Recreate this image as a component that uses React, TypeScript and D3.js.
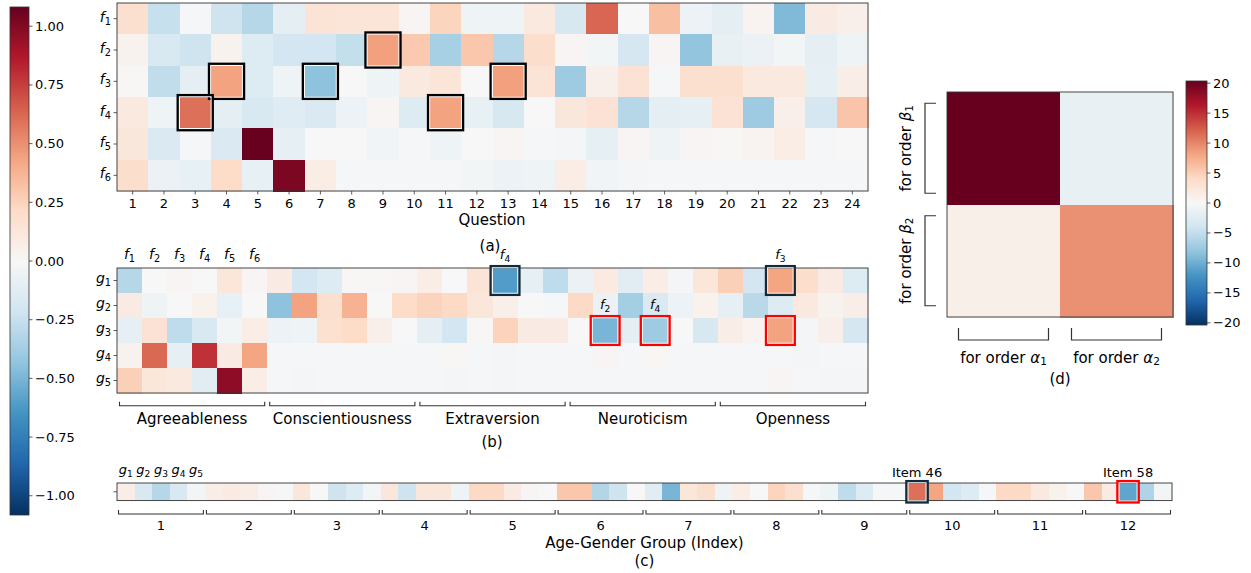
import React from "react";
import * as d3 from "d3";

// ---------------- data ----------------
const questionTicks = [1, 2, 3, 4, 5, 6, 7, 8, 9, 10, 11, 12, 13, 14, 15, 16, 17, 18, 19, 20, 21, 22, 23, 24];
const factorIdx = ["1", "2", "3", "4", "5", "6"];

const f1Row = [0.18, -0.25, -0.01, -0.22, -0.31, -0.11, 0.15, 0.14, 0.14, 0.02, 0.24, -0.05, -0.05, 0.11, -0.18, 0.63, 0.0, 0.33, -0.06, -0.11, 0.03, -0.48, 0.09, 0.06];
const f2Row = [0.04, -0.17, -0.22, 0.04, -0.15, -0.2, -0.2, -0.26, 0.45, 0.29, -0.36, 0.3, -0.31, 0.19, 0.02, -0.03, -0.19, 0.02, -0.43, -0.08, -0.07, -0.03, -0.11, -0.05];
const f3Row = [0.01, -0.27, -0.11, 0.44, -0.15, -0.05, -0.44, 0.0, -0.05, 0.11, 0.14, 0.0, 0.45, 0.15, -0.39, 0.06, 0.16, -0.01, 0.18, 0.18, 0.11, 0.11, -0.1, 0.07];
const f4Row = [0.11, -0.05, 0.6, -0.11, -0.17, -0.13, -0.16, -0.06, 0.02, -0.15, 0.44, -0.09, -0.18, 0.0, 0.12, 0.16, -0.31, -0.11, -0.1, 0.16, -0.39, 0.06, -0.19, 0.31];
const f5Row = [0.12, -0.16, -0.01, -0.16, 1.08, -0.1, 0.0, 0.0, -0.04, -0.01, -0.05, 0.0, 0.02, -0.01, -0.02, -0.1, 0.02, -0.05, 0.02, 0.01, 0.03, 0.08, -0.01, 0.0];
const f6Row = [0.19, -0.07, -0.09, 0.21, -0.09, 1.02, 0.08, -0.01, -0.01, -0.01, -0.01, -0.03, -0.06, -0.05, 0.08, -0.04, -0.02, -0.01, -0.01, -0.01, -0.01, -0.01, -0.01, -0.01];
const panelA = [f1Row, f2Row, f3Row, f4Row, f5Row, f6Row];
const boxesA = [
  { row: 1, col: 8 },
  { row: 2, col: 3 },
  { row: 2, col: 6 },
  { row: 2, col: 12 },
  { row: 3, col: 2 },
  { row: 3, col: 10 },
];

const groupIdx = ["1", "2", "3", "4", "5"];
const traits = ["Agreeableness", "Conscientiousness", "Extraversion", "Neuroticism", "Openness"];
const g1Row = [-0.31, 0.0, 0.02, 0.0, 0.13, 0.02, 0.09, -0.2, -0.15, 0.01, 0.01, 0.02, 0.08, 0.0, 0.15, -0.61, -0.1, -0.28, -0.07, 0.1, -0.12, 0.08, -0.02, 0.13, 0.26, -0.2, 0.43, 0.19, 0.09, -0.15];
const g2Row = [0.09, -0.05, 0.0, 0.05, -0.09, 0.0, -0.44, 0.44, 0.18, 0.38, 0.0, 0.21, 0.25, 0.22, 0.13, 0.06, 0.0, -0.01, 0.22, -0.07, -0.37, -0.16, -0.06, 0.05, -0.1, -0.3, -0.15, 0.11, 0.04, 0.07];
const g3Row = [-0.1, 0.16, -0.28, -0.17, -0.03, 0.08, -0.06, -0.05, 0.17, 0.21, 0.06, 0.0, -0.11, -0.2, 0.01, 0.25, 0.09, 0.09, 0.0, -0.5, -0.11, -0.39, 0.0, -0.18, 0.07, 0.03, 0.44, -0.02, 0.06, -0.19];
const g4Row = [0.04, 0.62, -0.1, 0.79, 0.09, 0.43, -0.01, -0.01, -0.01, -0.01, -0.01, -0.01, -0.01, 0.01, -0.01, -0.02, -0.01, -0.01, -0.01, 0.02, -0.01, 0.01, -0.01, -0.01, -0.01, -0.01, -0.01, -0.02, -0.01, -0.01];
const g5Row = [0.26, 0.13, 0.11, -0.12, 0.97, 0.08, -0.01, -0.02, -0.01, -0.01, -0.01, -0.01, -0.01, -0.02, -0.01, -0.02, -0.01, -0.01, -0.01, -0.01, -0.01, -0.01, -0.01, -0.01, -0.01, -0.01, 0.02, -0.01, -0.02, -0.02];
const panelB = [g1Row, g2Row, g3Row, g4Row, g5Row];
const boxesB = [
  { row: 0, col: 15, color: "dark", label: "4" },
  { row: 0, col: 26, color: "dark", label: "3" },
  { row: 2, col: 19, color: "red", label: "2" },
  { row: 2, col: 21, color: "red", label: "4" },
  { row: 2, col: 26, color: "red", label: "" },
];

const ageGroups = ["1", "2", "3", "4", "5", "6", "7", "8", "9", "10", "11", "12"];
const itemValues = [
  0.07, -0.17, -0.31, -0.17, -0.03,
  0.07, 0.09, 0.07, 0.02, -0.01,
  0.13, 0.0, -0.22, -0.15, -0.03,
  0.12, -0.22, 0.12, 0.12, -0.05,
  0.22, 0.22, 0.09, 0.02, 0.0,
  0.3, 0.3, -0.32, -0.22, 0.0,
  -0.12, -0.5, 0.13, 0.18, -0.05,
  0.08, 0.0, 0.24, 0.18, -0.01,
  -0.05, -0.28, -0.15, -0.01, -0.01,
  0.6, 0.43, -0.2, -0.15, -0.01,
  0.22, 0.22, 0.11, 0.05, 0.0,
  0.3, 0.09, -0.57, -0.33, -0.03,
];
const boxesC = [
  { idx: 45, color: "dark", label: "Item 46" },
  { idx: 57, color: "red", label: "Item 58" },
];

const dBeta1Row = [20.4, -1.6];
const dBeta2Row = [1.2, 9.3];
const panelD = [dBeta1Row, dBeta2Row];
const orderIdx = ["1", "2"];

const mainTicks = [1, 0.75, 0.5, 0.25, 0, -0.25, -0.5, -0.75, -1];
const dTicks = [20, 15, 10, 5, 0, -5, -10, -15, -20];

// ---------------- styling ----------------
const FONT = "'DejaVu Sans', sans-serif";
const AX = "#333";
const DARK = "#142a3a";
const RED = "#ff0000";
const stops = ["#053061", "#2166ac", "#4393c3", "#92c5de", "#d1e5f0", "#f7f7f7", "#fddbc7", "#f4a582", "#d6604d", "#b2182b", "#67001f"];
const VMAX = 1.082;
const VMAX_D = 20.36;

function makeCmap(vmax: number) {
  return d3
    .scaleLinear<string>()
    .domain(stops.map((_, i) => -vmax + (2 * vmax * i) / 10))
    .range(stops)
    .interpolate(d3.interpolateRgb)
    .clamp(true);
}
const cmap = makeCmap(VMAX);
const cmapD = makeCmap(VMAX_D);

const fmt2 = (v: number) => (v < 0 ? "\u2212" : "") + Math.abs(v).toFixed(2);
const fmt0 = (v: number) => (v < 0 ? "\u2212" : "") + Math.abs(v).toString();

function MathLabel(props: { x: number; y: number; base: string; sub: string; anchor?: string; size?: number; italic?: boolean }) {
  const size = props.size ?? 14;
  return (
    <text x={props.x} y={props.y} textAnchor={props.anchor ?? "middle"} fontFamily={FONT} fontSize={size} fill="#000">
      <tspan fontStyle={props.italic === false ? "normal" : "italic"}>{props.base}</tspan>
      <tspan fontSize={size * 0.7} dy={size * 0.22}>{props.sub}</tspan>
    </text>
  );
}

function Box(props: { x: number; y: number; w: number; h: number; color: string }) {
  const { x, y, w, h, color } = props;
  return (
    <g>
      <rect x={x - 0.4} y={y - 0.4} width={w + 0.8} height={h + 0.8} fill="none" stroke="#fff" strokeWidth={1.3} />
      <rect x={x - 1.9} y={y - 1.9} width={w + 3.8} height={h + 3.8} fill="none" stroke={color} strokeWidth={2.3} />
    </g>
  );
}

function HBracket(props: { x0: number; x1: number; y: number; up: number }) {
  const { x0, x1, y, up } = props;
  return <path d={`M${x0},${y - up}V${y}H${x1}V${y - up}`} fill="none" stroke={AX} strokeWidth={1.1} />;
}

export default function App() {
  // Panel A
  const ax = d3.scaleBand<number>().domain(questionTicks).range([117, 868]);
  const ay = d3.scaleBand<string>().domain(factorIdx).range([3, 191]);
  // Panel B
  const bCols = d3.range(30);
  const bx = d3.scaleBand<number>().domain(bCols).range([117, 868]);
  const by = d3.scaleBand<string>().domain(groupIdx).range([268, 393]);
  // Panel C
  const cCols = d3.range(itemValues.length);
  const cx = d3.scaleBand<number>().domain(cCols).range([117, 1172]);
  const cy0 = 483;
  const cy1 = cy0 + cx.bandwidth();
  // Panel D
  const dx = d3.scaleBand<string>().domain(orderIdx).range([947, 1173]);
  const dy = d3.scaleBand<string>().domain(orderIdx).range([92, 317]);
  // colorbars
  const cbY = d3.scaleLinear().domain([-VMAX, VMAX]).range([515, 7]);
  const cbDY = d3.scaleLinear().domain([-VMAX_D, VMAX_D]).range([325, 81]);

  const colorOf = (c: string) => (c === "red" ? RED : DARK);

  return (
    <svg width={1251} height={573} style={{ position: "absolute", left: 0, top: 0, background: "#fff" }} fontFamily={FONT}>
      <defs>
        <linearGradient id="gradMain" x1="0" y1="1" x2="0" y2="0">
          {stops.map((s, i) => (
            <stop key={i} offset={i / 10} stopColor={s} />
          ))}
        </linearGradient>
      </defs>
      <rect x={0} y={0} width={1251} height={573} fill="#fff" />

      {/* ---------- Left colorbar ---------- */}
      <rect x={10} y={cbY(VMAX)} width={19} height={cbY(-VMAX) - cbY(VMAX)} fill="url(#gradMain)" stroke={AX} strokeWidth={0.8} />
      {mainTicks.map((t) => (
        <g key={t}>
          <line x1={29} x2={32.5} y1={cbY(t)} y2={cbY(t)} stroke={AX} strokeWidth={0.8} />
          <text x={35} y={cbY(t)} dominantBaseline="central" fontSize={13}>
            {fmt2(t)}
          </text>
        </g>
      ))}

      {/* ---------- Panel A ---------- */}
      <g shapeRendering="crispEdges">
        {panelA.map((row, r) =>
          row.map((v, c) => (
            <rect key={`a${r}-${c}`} x={ax(questionTicks[c])} y={ay(factorIdx[r])} width={ax.bandwidth() + 0.5} height={ay.bandwidth() + 0.5} fill={cmap(v)} />
          ))
        )}
      </g>
      <rect x={117} y={3} width={751} height={188} fill="none" stroke={AX} strokeWidth={0.9} />
      {boxesA.map((b, i) => (
        <Box key={i} x={ax(questionTicks[b.col])!} y={ay(factorIdx[b.row])!} w={ax.bandwidth()} h={ay.bandwidth()} color="#000" />
      ))}
      {questionTicks.map((q) => {
        const x = ax(q)! + ax.bandwidth() / 2;
        return (
          <g key={`qa${q}`}>
            <line x1={x} x2={x} y1={191} y2={194.5} stroke={AX} strokeWidth={0.8} />
            <text x={x} y={203} textAnchor="middle" dominantBaseline="central" fontSize={13}>
              {q}
            </text>
          </g>
        );
      })}
      {factorIdx.map((f) => {
        const y = ay(f)! + ay.bandwidth() / 2;
        return (
          <g key={`fa${f}`}>
            <line x1={113.5} x2={117} y1={y} y2={y} stroke={AX} strokeWidth={0.8} />
            <MathLabel x={111} y={y + 3} base="f" sub={f} anchor="end" size={14} />
          </g>
        );
      })}
      <text x={492} y={220} textAnchor="middle" dominantBaseline="central" fontSize={15}>
        Question
      </text>
      <text x={490} y={246} textAnchor="middle" dominantBaseline="central" fontSize={15}>
        (a)
      </text>

      {/* ---------- Panel B ---------- */}
      <g shapeRendering="crispEdges">
        {panelB.map((row, r) =>
          row.map((v, c) => (
            <rect key={`b${r}-${c}`} x={bx(c)} y={by(groupIdx[r])} width={bx.bandwidth() + 0.5} height={by.bandwidth() + 0.5} fill={cmap(v)} />
          ))
        )}
      </g>
      <rect x={117} y={268} width={751} height={125} fill="none" stroke={AX} strokeWidth={0.9} />
      {factorIdx.map((f, i) => (
        <MathLabel key={`fb${f}`} x={bx(i)! + bx.bandwidth() / 2} y={259} base="f" sub={f} size={14} />
      ))}
      {groupIdx.map((g) => {
        const y = by(g)! + by.bandwidth() / 2;
        return (
          <g key={`gb${g}`}>
            <line x1={113.5} x2={117} y1={y} y2={y} stroke={AX} strokeWidth={0.8} />
            <MathLabel x={111} y={y + 2} base="g" sub={g} anchor="end" size={14} />
          </g>
        );
      })}
      {boxesB.map((b, i) => {
        const x = bx(b.col)!;
        const y = by(groupIdx[b.row])!;
        return (
          <g key={`bb${i}`}>
            <Box x={x} y={y} w={bx.bandwidth()} h={by.bandwidth()} color={colorOf(b.color)} />
            {b.label && <MathLabel x={x + bx.bandwidth() / 2} y={y - 9} base="f" sub={b.label} size={13} />}
          </g>
        );
      })}
      {traits.map((t, i) => {
        const x0 = bx(i * 6)!;
        const x1 = bx(i * 6 + 5)! + bx.bandwidth();
        return (
          <g key={t}>
            <HBracket x0={x0 + 2.5} x1={x1 - 2.5} y={405.7} up={4} />
            <text x={(x0 + x1) / 2} y={418.5} textAnchor="middle" dominantBaseline="central" fontSize={15}>
              {t}
            </text>
          </g>
        );
      })}
      <text x={492} y={442} textAnchor="middle" dominantBaseline="central" fontSize={15}>
        (b)
      </text>

      {/* ---------- Panel C ---------- */}
      <g shapeRendering="crispEdges">
        {itemValues.map((v, i) => (
          <rect key={`c${i}`} x={cx(i)} y={cy0} width={cx.bandwidth() + 0.5} height={cy1 - cy0} fill={cmap(v)} />
        ))}
      </g>
      <rect x={117} y={cy0} width={1055} height={cy1 - cy0} fill="none" stroke={AX} strokeWidth={0.9} />
      <line x1={113.5} x2={117} y1={(cy0 + cy1) / 2} y2={(cy0 + cy1) / 2} stroke={AX} strokeWidth={0.8} />
      {groupIdx.map((g, i) => (
        <MathLabel key={`gc${g}`} x={cx(i)! + cx.bandwidth() / 2} y={474} base="g" sub={g} size={13} />
      ))}
      {boxesC.map((b, i) => {
        const x = cx(b.idx)!;
        return (
          <g key={`bc${i}`}>
            <Box x={x} y={cy0} w={cx.bandwidth()} h={cy1 - cy0} color={colorOf(b.color)} />
            <text x={x + cx.bandwidth() / 2} y={472} textAnchor="middle" dominantBaseline="central" fontSize={13}>
              {b.label}
            </text>
          </g>
        );
      })}
      {ageGroups.map((g, i) => {
        const x0 = cx(i * 5)!;
        const x1 = cx(i * 5 + 4)! + cx.bandwidth();
        return (
          <g key={`ag${g}`}>
            <HBracket x0={x0 + 1.5} x1={x1 - 1.5} y={514} up={4} />
            <text x={(x0 + x1) / 2} y={525.5} textAnchor="middle" dominantBaseline="central" fontSize={13}>
              {g}
            </text>
          </g>
        );
      })}
      <text x={644.5} y={543} textAnchor="middle" dominantBaseline="central" fontSize={15}>
        Age-Gender Group (Index)
      </text>
      <text x={644.5} y={561} textAnchor="middle" dominantBaseline="central" fontSize={15}>
        (c)
      </text>

      {/* ---------- Panel D ---------- */}
      <g shapeRendering="crispEdges">
        {panelD.map((row, r) =>
          row.map((v, c) => (
            <rect key={`d${r}-${c}`} x={dx(orderIdx[c])} y={dy(orderIdx[r])} width={dx.bandwidth() + 0.5} height={dy.bandwidth() + 0.5} fill={cmapD(v)} />
          ))
        )}
      </g>
      <rect x={947} y={92} width={226} height={225} fill="none" stroke={AX} strokeWidth={0.9} />
      {orderIdx.map((o) => {
        const yc = dy(o)! + dy.bandwidth() / 2;
        return (
          <g key={`beta${o}`}>
            <path d={`M936,${yc - 45}H925V${yc + 45}H936`} fill="none" stroke={AX} strokeWidth={1.2} />
            <g transform={`translate(906,${yc}) rotate(-90)`}>
              <text x={0} y={0} textAnchor="middle" dominantBaseline="central" fontSize={15}>
                <tspan>for order </tspan>
                <tspan fontStyle="italic">β</tspan>
                <tspan fontSize={10.5} dy={3}>{o}</tspan>
              </text>
            </g>
          </g>
        );
      })}
      {orderIdx.map((o) => {
        const xc = dx(o)! + dx.bandwidth() / 2;
        return (
          <g key={`alpha${o}`}>
            <path d={`M${xc - 45},328V340H${xc + 45}V328`} fill="none" stroke={AX} strokeWidth={1.2} />
            <text x={xc} y={358} textAnchor="middle" dominantBaseline="central" fontSize={15}>
              <tspan>for order </tspan>
              <tspan fontStyle="italic">α</tspan>
              <tspan fontSize={10.5} dy={3}>{o}</tspan>
            </text>
          </g>
        );
      })}
      <text x={1060} y={379} textAnchor="middle" dominantBaseline="central" fontSize={15}>
        (d)
      </text>
      <rect x={1186} y={cbDY(VMAX_D)} width={21} height={cbDY(-VMAX_D) - cbDY(VMAX_D)} fill="url(#gradMain)" stroke={AX} strokeWidth={0.8} />
      {dTicks.map((t) => (
        <g key={`dt${t}`}>
          <line x1={1207} x2={1210.5} y1={cbDY(t)} y2={cbDY(t)} stroke={AX} strokeWidth={0.8} />
          <text x={1213} y={cbDY(t)} dominantBaseline="central" fontSize={13}>
            {fmt0(t)}
          </text>
        </g>
      ))}
    </svg>
  );
}
